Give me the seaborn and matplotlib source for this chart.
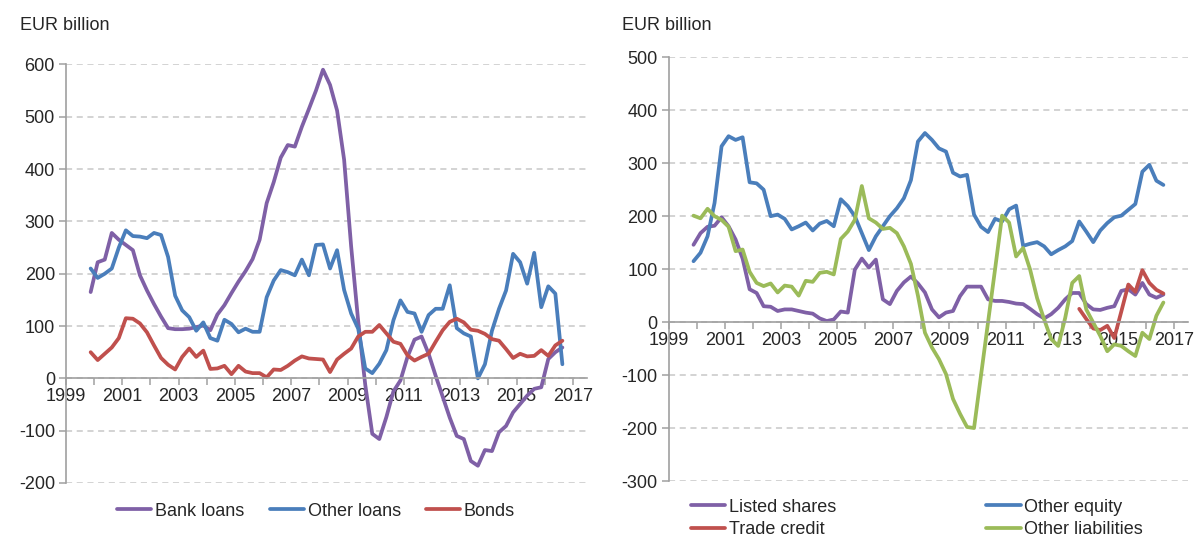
import numpy as np
import pandas as pd
import seaborn as sns
import matplotlib.pyplot as plt
from matplotlib.ticker import MultipleLocator

# quarterly flows, 1999Q4 - 2016Q3 (EUR billion)
quarters = pd.period_range("1999Q4", "2016Q3", freq="Q")

bank_loans = [165,
              222, 227, 278, 265,   255, 245, 197, 168,   142, 118, 96, 94,
              94, 95, 98, 101,      92, 122, 140, 163,    185, 205, 228, 265,
              335, 375, 422, 446,   443, 481, 515, 550,   590, 561, 512, 418,
              252, 109, -12, -106,  -116, -74, -25, -4,   41, 74, 80, 47,
              5, -35, -75, -110,    -116, -158, -167, -137, -139, -103, -91, -65,
              -49, -33, -20, -17,   37, 50, 59]
other_loans = [210,
               192, 200, 210, 250,  283, 272, 271, 268,   278, 274, 232, 158,
               130, 117, 91, 107,   77, 72, 112, 104,     88, 95, 89, 89,
               155, 187, 207, 203,  197, 227, 197, 255,   256, 210, 245, 169,
               124, 95, 19, 10,     28, 54, 111, 149,     127, 124, 89, 121,
               133, 133, 178, 96,   86, 80, 0, 27,        91, 133, 168, 238,
               222, 181, 240, 136,  176, 162, 27]
bonds = [50,
         35, 47, 59, 77,      115, 114, 105, 88,    63, 39, 26, 17,
         41, 57, 41, 53,      18, 19, 24, 8,        24, 13, 10, 10,
         2, 17, 16, 24,       34, 42, 38, 37,       36, 12, 36, 47,
         57, 80, 89, 89,      102, 86, 70, 66,      44, 34, 41, 47,
         70, 92, 108, 114,    107, 93, 91, 85,      75, 72, 56, 39,
         47, 42, 43, 54,      43, 63, 72]

listed_shares = [146,
                 168, 180, 182, 198,  181, 156, 120, 62,   55, 30, 29, 21,
                 24, 24, 21, 18,      16, 7, 2, 5,         20, 18, 99, 120,
                 103, 118, 43, 34,    59, 75, 86, 73,      56, 24, 9, 18,
                 21, 49, 67, 67,      67, 43, 40, 40,      38, 35, 34, 25,
                 15, 7, 15, 27,       43, 55, 55, 34,      24, 23, 27, 30,
                 59, 62, 52, 74,      52, 46, 52]
other_equity = [115,
                131, 162, 225, 332,  351, 344, 349, 264,  262, 250, 200, 203,
                195, 175, 181, 188,  173, 186, 191, 181,  232, 219, 200, 168,
                136, 162, 181, 200,  215, 234, 268, 341,  357, 344, 328, 322,
                282, 275, 278, 203,  180, 170, 195, 190,  213, 220, 144, 148,
                151, 143, 128, 136,  143, 153, 190, 171,  151, 173, 187, 198,
                201, 212, 223, 284,  297, 267, 259]
trade_credit = [np.nan] * 55 + [25, 6, -12, -15, -7, -30, 20, 71, 57, 98, 74, 61, 54]
other_liabilities = [201,
                     196, 214, 200, 193,   180, 134, 137, 95,    74, 68, 73, 56,
                     69, 67, 50, 78,       76, 93, 95, 90,       157, 171, 193, 257,
                     196, 188, 176, 178,   168, 143, 110, 50,    -20, -48, -70, -98,
                     -145, -173, -198, -200, -100, 0, 100, 201,  188, 124, 140, 99,
                     45, 5, -32, -45,      8, 74, 87, 24,        -1, -26, -55, -42,
                     -45, -55, -64, -20,   -32, 12, 37]

purple = "#7f60a6"
blue = "#4a7ebb"
red = "#c0504d"
green = "#9bbb59"

x = quarters.year + (quarters.quarter - 1) / 4 + 0.125

sns.set_style("white")
plt.rcParams["font.family"] = ["Liberation Sans", "DejaVu Sans"]
plt.rcParams["axes.unicode_minus"] = False
fs = 13

fig = plt.figure(figsize=(11.98, 5.36), dpi=100)
ax1 = fig.add_axes([0.0551, 0.0989, 0.4349, 0.7808])
ax2 = fig.add_axes([0.5584, 0.1026, 0.4332, 0.7905])

lw = 2.7
sns.lineplot(x=x, y=bank_loans, ax=ax1, color=purple, lw=lw, label="Bank loans")
sns.lineplot(x=x, y=other_loans, ax=ax1, color=blue, lw=lw, label="Other loans")
sns.lineplot(x=x, y=bonds, ax=ax1, color=red, lw=lw, label="Bonds")

sns.lineplot(x=x, y=listed_shares, ax=ax2, color=purple, lw=lw, label="Listed shares")
sns.lineplot(x=x, y=trade_credit, ax=ax2, color=red, lw=lw, label="Trade credit")
sns.lineplot(x=x, y=other_equity, ax=ax2, color=blue, lw=lw, label="Other equity")
sns.lineplot(x=x, y=other_liabilities, ax=ax2, color=green, lw=lw, label="Other liabilities")

for ax, ylim in [(ax1, (-200, 600)), (ax2, (-300, 500))]:
    ax.set_xlim(1999, 2017.5)
    ax.set_ylim(*ylim)
    ax.yaxis.set_major_locator(MultipleLocator(100))
    ax.set_xticks(range(1999, 2018, 2))
    ax.set_xticks(range(2000, 2017, 2), minor=True)
    ax.yaxis.grid(True, linestyle=(0, (4, 3)), color="#c8c8c8", lw=1.1)
    ax.xaxis.grid(False)
    for s in ["top", "right"]:
        ax.spines[s].set_visible(False)
    ax.spines["bottom"].set_position(("data", 0))
    ax.spines["bottom"].set_color("#a0a0a0")
    ax.spines["left"].set_color("#a0a0a0")
    ax.spines["bottom"].set_linewidth(1.2)
    ax.spines["left"].set_linewidth(1.2)
    ax.tick_params(axis="x", which="both", direction="out", length=5, width=1.1,
                   color="#a0a0a0", labelsize=fs, pad=2, bottom=True)
    ax.tick_params(axis="y", direction="out", length=5, width=1.1,
                   color="#a0a0a0", labelsize=fs, pad=3, left=True)
    ax.set_xlabel("")
    ax.set_ylabel("")

ax1.legend(loc="center", bbox_to_anchor=(0.48, -0.067), ncol=3, frameon=False,
           fontsize=fs, handlelength=1.9, handletextpad=0.2, columnspacing=1.4)
ax2.legend(loc="center", bbox_to_anchor=(0.478, -0.088), ncol=2, frameon=False,
           fontsize=fs, handlelength=1.9, handletextpad=0.2, columnspacing=8.3,
           labelspacing=0.3)

fig.text(20 / 1198, 1 - 25 / 536, "EUR billion", ha="left", va="center", fontsize=fs)
fig.text(622 / 1198, 1 - 25 / 536, "EUR billion", ha="left", va="center", fontsize=fs)

fig.savefig("out.png", dpi=100)
